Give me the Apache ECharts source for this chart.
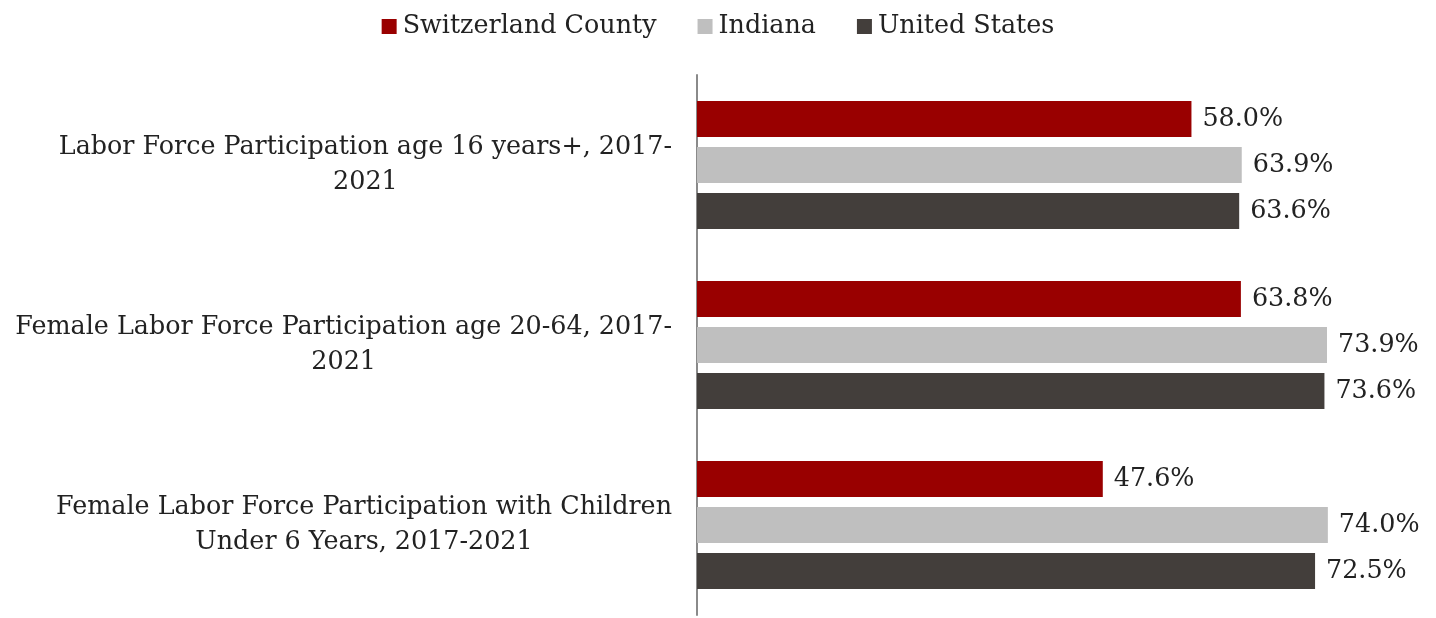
<!DOCTYPE html>
<html>
<head>
<meta charset="utf-8">
<script src="https://cdn.jsdelivr.net/npm/echarts@6/dist/echarts.min.js"></script>
<style>
	html, body { margin: 0; padding: 0; background: #fff; }
	#laborChart { width: 1436px; height: 618px; }
</style>
</head>
<body>
<div id="laborChart"></div>
<script>
/*类目与数据*/
var categories = [
	'Labor Force Participation age 16 years+, 2017-\n2021',
	'Female Labor Force Participation age 20-64, 2017-\n2021',
	'Female Labor Force Participation with Children\nUnder 6 Years, 2017-2021'
];
var seriesNames = ['Switzerland County', 'Indiana', 'United States'];
var switzerlandValues = [58.0, 63.8, 47.6];
var indianaValues = [63.9, 73.9, 74.0];
var usValues = [63.6, 73.6, 72.5];

laborChart();

function laborChart(){
	var chart = echarts.init(document.getElementById('laborChart'));
	var fontFamily = '"DejaVu Serif", serif';
	var fontSize = 25.4;
	var barStyle = function(name, data, color){
		return {
			name : name,
			type : 'bar',
			data : data,
			barWidth : 36,
			barGap : '28%',
			itemStyle : { color : color },
			label : {
				show : true,
				position : 'right',
				distance : 11,
				color : '#222',
				fontFamily : fontFamily,
				fontSize : fontSize,
				formatter : function(p){ return p.value.toFixed(1) + '%'; }
			}
		};
	};
	var option = {
		animation : false,
		color : ['#990000', '#bfbfbf', '#433e3b'],
		legend : {
			top : 9,
			left : 'center',
			itemWidth : 15,
			itemHeight : 15,
			itemGap : 41,
			icon : 'rect',
			textStyle : {
				fontFamily : fontFamily,
				fontSize : fontSize,
				color : '#222',
				padding : [0, 0, 0, 1]
			},
			data : seriesNames
		},
		grid : {
			left : 697,
			right : 57,
			top : 75,
			bottom : 3,
			containLabel : false
		},
		xAxis : {
			type : 'value',
			min : 0,
			max : 80,
			show : false,
			splitLine : { show : false }
		},
		yAxis : {
			type : 'category',
			inverse : true,
			data : categories,
			axisLine : { lineStyle : { color : '#8a8a8a', width : 2 } },
			axisTick : { show : false },
			axisLabel : {
				align : 'right',
				margin : 25,
				formatter : function(value){
					// 每行居中，整块右对齐
					return value.split('\n').map(function(s){ return '{c|' + s + '}'; }).join('\n');
				},
				rich : {
					c : {
						align : 'center',
						fontFamily : fontFamily,
						fontSize : fontSize,
						lineHeight : 35,
						color : '#222'
					}
				}
			}
		},
		series : [
			barStyle(seriesNames[0], switzerlandValues, '#990000'),
			barStyle(seriesNames[1], indianaValues, '#bfbfbf'),
			barStyle(seriesNames[2], usValues, '#433e3b')
		]
	};
	chart.setOption(option);
}
</script>
</body>
</html>
